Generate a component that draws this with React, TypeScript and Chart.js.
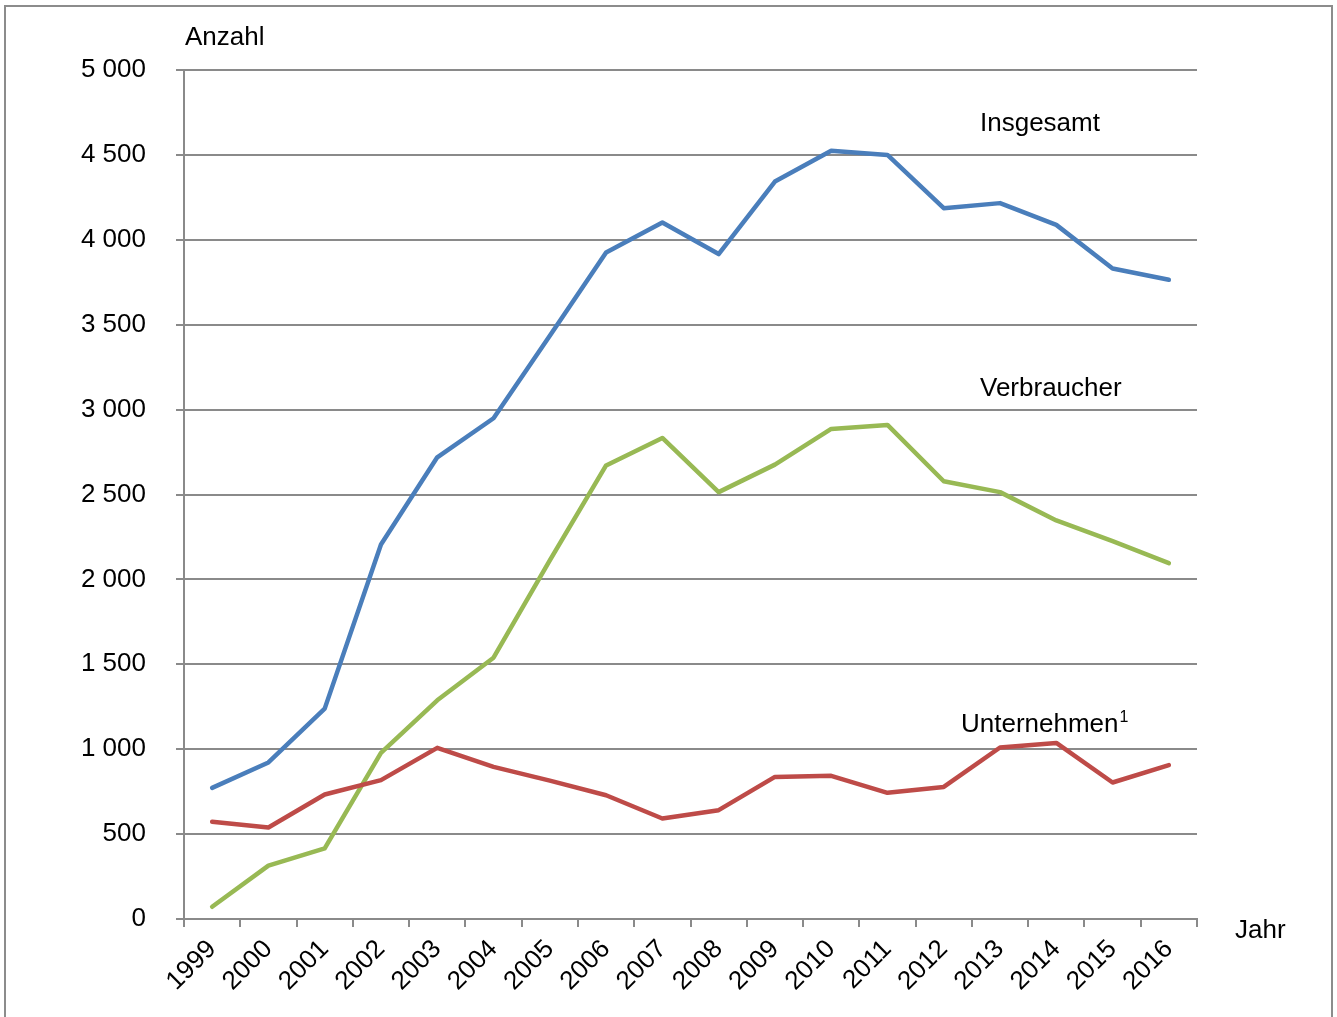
import React, { useEffect, useRef } from "react";
import { Chart, registerables } from "chart.js";

Chart.register(...registerables);

const years = ["1999", "2000", "2001", "2002", "2003", "2004", "2005", "2006", "2007", "2008", "2009", "2010", "2011", "2012", "2013", "2014", "2015", "2016"];
const insgesamt = [772, 922, 1239, 2206, 2719, 2949, 3435, 3925, 4102, 3916, 4343, 4524, 4500, 4186, 4216, 4088, 3831, 3765];
const verbraucher = [72, 314, 416, 978, 1288, 1539, 2112, 2671, 2833, 2514, 2676, 2886, 2910, 2578, 2514, 2347, 2225, 2096];
const unternehmen = [573, 539, 733, 818, 1008, 896, 815, 729, 592, 641, 837, 843, 743, 778, 1010, 1037, 804, 906];
const yMin = 0;
const yMax = 5000;
const yStep = 500;

const FONT = "'Liberation Sans', Arial, sans-serif";
const GRID = "#8a8a8a";
const FS = 26;

const framePlugin = {
  id: "frame",
  beforeDraw(chart: any) {
    const ctx = chart.ctx;
    ctx.save();
    ctx.fillStyle = "#ffffff";
    ctx.fillRect(0, 0, chart.width, chart.height);
    ctx.strokeStyle = "#8c8c8c";
    ctx.lineWidth = 2;
    ctx.beginPath();
    ctx.moveTo(5, 1017);
    ctx.lineTo(5, 6);
    ctx.lineTo(1332, 6);
    ctx.lineTo(1332, 1017);
    ctx.stroke();
    ctx.restore();
  },
  afterDraw(chart: any) {
    const ctx = chart.ctx;
    ctx.save();
    ctx.fillStyle = "#000000";
    ctx.textBaseline = "middle";
    ctx.textAlign = "left";
    ctx.font = `${FS}px ${FONT}`;
    ctx.fillText("Anzahl", 185, 38);
    ctx.fillText("Jahr", 1235, 931);
    ctx.fillText("Insgesamt", 980, 124);
    ctx.fillText("Verbraucher", 980, 389);
    ctx.fillText("Unternehmen", 961, 725);
    const w = ctx.measureText("Unternehmen").width;
    ctx.font = `16px ${FONT}`;
    ctx.fillText("1", 961 + w + 1, 718);
    ctx.restore();
  },
};

export default function App() {
  const ref = useRef<HTMLCanvasElement | null>(null);
  useEffect(() => {
    if (!ref.current) return;
    const mk = (label: string, data: number[], color: string) => ({
      label,
      data,
      borderColor: color,
      backgroundColor: color,
      borderWidth: 4.5,
      pointRadius: 0,
      pointHoverRadius: 0,
      tension: 0,
      borderCapStyle: "round" as const,
      borderJoinStyle: "round" as const,
      fill: false,
    });
    const chart = new Chart(ref.current, {
      type: "line",
      data: {
        labels: years,
        datasets: [
          mk("Unternehmen", unternehmen, "#be4b48"),
          mk("Verbraucher", verbraucher, "#98b954"),
          mk("Insgesamt", insgesamt, "#4a7ebb"),
        ],
      },
      options: {
        animation: false,
        responsive: false,
        maintainAspectRatio: false,
        events: [],
        layout: { padding: { left: 0, top: 70, right: 140, bottom: 0 } },
        plugins: { legend: { display: false }, tooltip: { enabled: false }, title: { display: false } },
        scales: {
          x: {
            type: "category",
            offset: true,
            grid: {
              offset: true,
              drawOnChartArea: false,
              drawTicks: true,
              tickLength: 8,
              color: GRID,
              lineWidth: 2,
            },
            border: { display: true, color: GRID, width: 2 },
            ticks: {
              autoSkip: false,
              minRotation: 45,
              maxRotation: 45,
              padding: 7,
              color: "#000000",
              font: { family: FONT, size: FS },
            },
            afterFit(scale: any) {
              scale.height = 98;
            },
          },
          y: {
            min: yMin,
            max: yMax,
            ticks: {
              stepSize: yStep,
              padding: 30,
              color: "#000000",
              font: { family: FONT, size: FS },
              callback: (v: any) => {
                const n = Number(v);
                return n >= 1000 ? `${Math.floor(n / 1000)} ${String(n % 1000).padStart(3, "0")}` : String(n);
              },
            },
            grid: { color: GRID, lineWidth: 2, tickLength: 8, drawTicks: true },
            border: { display: true, color: GRID, width: 2 },
            afterFit(scale: any) {
              scale.width = 184;
            },
          },
        },
      },
      plugins: [framePlugin],
    });
    return () => chart.destroy();
  }, []);
  return (
    <div style={{ position: "absolute", left: 0, top: 0, width: 1337, height: 1017 }}>
      <canvas ref={ref} width={1337} height={1017} style={{ display: "block", width: 1337, height: 1017 }} />
    </div>
  );
}
